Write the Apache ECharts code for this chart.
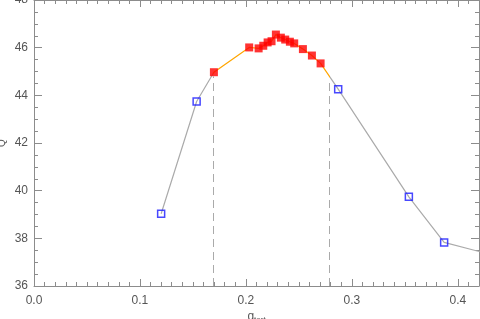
<!DOCTYPE html>
<html>
<head>
<meta charset="utf-8">
<script src="https://cdn.jsdelivr.net/npm/echarts@6/dist/echarts.min.js"></script>
<style>html,body{margin:0;padding:0;background:#fff}#c{width:480px;height:319px}</style>
</head>
<body>
<div id="c"></div>
<script>
// outer (blue open squares) points
const outerQtort = [0.120, 0.1535, 0.2871, 0.3538, 0.3871, 0.450];
const outerQ     = [39.03, 43.74, 44.26, 39.74, 37.83, 37.10];
// inner (red filled squares) points
const innerQtort = [0.1698, 0.2031, 0.2120, 0.2164, 0.2205, 0.2242, 0.2283, 0.2330, 0.2371, 0.2415, 0.2456, 0.2538, 0.2623, 0.2705];
const innerQ     = [44.97, 46.01, 45.97, 46.08, 46.22, 46.27, 46.55, 46.42, 46.34, 46.25, 46.18, 45.94, 45.67, 45.34];
// cut boundaries (dashed lines)
const cutQtort = [0.169, 0.279];
const cutQ     = [44.80, 44.70];
const xTicks = [0.0, 0.1, 0.2, 0.3, 0.4];
const yTicks = [36, 38, 40, 42, 44, 46, 48];

const outerData = outerQtort.map((x, i) => [x, outerQ[i]]);
const innerData = innerQtort.map((x, i) => [x, innerQ[i]]);
const lineData = outerData.concat(innerData).sort((a, b) => a[0] - b[0]);

const axisCol = '#8c8c8c';
const labelStyle = { color: '#555', fontFamily: 'Liberation Sans', fontSize: 12 };

function xAx(pos, showLabel) {
  return {
    type: 'value', position: pos, min: 0, max: 0.42, interval: 0.1,
    axisLine: { show: true, onZero: false, lineStyle: { color: axisCol, width: 1 } },
    axisTick: { show: true, inside: true, length: 7, lineStyle: { color: axisCol } },
    minorTick: { show: true, splitNumber: 10, length: 4, lineStyle: { color: axisCol } },
    splitLine: { show: false },
    axisLabel: Object.assign({ show: showLabel, margin: 9, showMaxLabel: false,
      formatter: v => xTicks.some(t => Math.abs(t - v) < 1e-9) ? v.toFixed(1) : '' }, labelStyle)
  };
}
function yAx(pos, showLabel) {
  return {
    type: 'value', position: pos, min: 36, max: 48, interval: 2,
    axisLine: { show: true, onZero: false, lineStyle: { color: axisCol, width: 1 } },
    axisTick: { show: true, inside: true, length: 8, lineStyle: { color: axisCol } },
    minorTick: { show: true, splitNumber: 4, length: 4, lineStyle: { color: axisCol } },
    splitLine: { show: false },
    axisLabel: Object.assign({ show: showLabel, margin: 6,
      formatter: v => yTicks.includes(v) ? String(v) : '' }, labelStyle)
  };
}

const xBottom = xAx('bottom', true);
xBottom.name = '{q|q}{s|tort}';
xBottom.nameLocation = 'middle';
xBottom.nameGap = 24;
xBottom.nameMoveOverlap = false;
xBottom.nameTextStyle = { rich: {
  q: { color: '#555', fontFamily: 'Liberation Sans', fontSize: 12 },
  s: { color: '#555', fontFamily: 'Liberation Sans', fontSize: 8, padding: [6, 0, 0, 0] }
}};
const yLeft = yAx('left', true);
yLeft.name = 'Q';
yLeft.nameLocation = 'middle';
yLeft.nameGap = 27;
yLeft.nameMoveOverlap = false;
yLeft.nameTextStyle = { color: '#555', fontFamily: 'Liberation Sans', fontSize: 10 };

const chart = echarts.init(document.getElementById('c'), null, { renderer: 'canvas' });
chart.setOption({
  animation: false,
  backgroundColor: '#fff',
  grid: { left: 34, top: 0, right: 1, bottom: 33, containLabel: false, outerBoundsMode: 'none' },
  xAxis: [xBottom, xAx('top', false)],
  yAxis: [yLeft, yAx('right', false)],
  visualMap: {
    type: 'piecewise', show: false, dimension: 0, seriesIndex: 0,
    pieces: [
      { lt: cutQtort[0], color: '#aaaaaa' },
      { gte: cutQtort[0], lte: cutQtort[1], color: '#ffa500' },
      { gt: cutQtort[1], color: '#aaaaaa' }
    ]
  },
  series: [
    {
      type: 'line', data: lineData, showSymbol: false, clip: true,
      lineStyle: { width: 1.2 }, z: 2,
      markLine: {
        silent: true, symbol: 'none', label: { show: false },
        lineStyle: { color: '#aaaaaa', type: [8, 5], width: 1 },
        data: cutQtort.map((x, i) => [{ coord: [x, 36] }, { coord: [x, cutQ[i]] }])
      }
    },
    {
      type: 'scatter', data: outerData, symbol: 'rect', symbolSize: 7, clip: true,
      itemStyle: { color: 'rgba(0,0,0,0)', borderColor: '#1a1aff', borderWidth: 1.5 }, z: 3
    },
    {
      type: 'scatter', data: innerData, symbol: 'rect', symbolSize: 8, clip: true,
      itemStyle: { color: '#ff0000' }, z: 4
    }
  ]
});
</script>
</body>
</html>
